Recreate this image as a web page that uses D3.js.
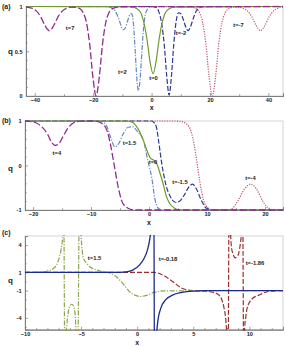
<!DOCTYPE html>
<html><head><meta charset="utf-8">
<script src="https://cdn.jsdelivr.net/npm/d3@7"></script>
<style>body{margin:0;background:#fff}svg{display:block}text{font-family:"Liberation Sans",Arial,sans-serif}</style>
</head><body><svg id="chart" width="286" height="347"></svg>
<script>
// ---------- Panel (a) ----------
const aX_t7 = [-43,-42.5,-41,-39.5,-38,-36.5,-35,-33.5,-32,-30.5,-29,-27.5,-26,-24.5,-23.4,-22.3,-21.2,-20.1,-19,-17.9,-16.8,-15.7,-14.6,-13.5,-11,45];
const aQ_t7 = [0.996,0.993,0.981,0.951,0.887,0.788,0.73,0.788,0.887,0.951,0.981,0.993,0.99,0.974,0.93,0.82,0.58,0.214,0,0.214,0.58,0.82,0.93,0.974,0.997,1];
const aX_t2 = [-43,-16,-14,-12.5,-11.2,-10.3,-9.7,-9,-8.2,-7.4,-6.8,-6.2,-5.6,-5.1,-4.5,-3.9,-3.4,-2.8,-2.2,-1.4,0,45];
const aQ_t2 = [1,1,0.99,0.95,0.86,0.77,0.74,0.76,0.84,0.91,0.92,0.8,0.5,0.22,0.06,0.2,0.45,0.74,0.9,0.97,1,1];
const aX_t0 = [-43,-7.5,-6.5,-5.5,-4.5,-3.5,-2.5,-1.5,-0.5,0.5,1.5,2.5,3.5,4.5,5.5,6.5,7.5,45];
const aQ_t0 = [1,0.997,0.993,0.984,0.962,0.917,0.80,0.617,0.377,0.25,0.377,0.617,0.80,0.917,0.962,0.984,0.993,1];
const aX_tm2 = [-43,0,1.5,2.5,3.5,4.4,5.2,6,6.8,7.6,8.4,9.2,10,10.8,11.7,12.5,13.3,14.3,15.3,16.5,18,45];
const aQ_tm2 = [1,1,0.99,0.94,0.8,0.55,0.22,0.01,0.22,0.58,0.83,0.93,0.92,0.86,0.77,0.73,0.77,0.87,0.95,0.985,1,1];
const aX_tm7 = [-43,13,15.3,16.4,17.5,18.6,19.7,20.8,21.9,23,24.1,25.2,26.3,28.5,29.8,31.3,32.8,34.3,35.8,37.3,38.8,40.3,41.8,43.3,45];
const aQ_tm7 = [1,0.998,0.974,0.93,0.82,0.58,0.214,0,0.214,0.58,0.82,0.93,0.974,0.995,0.993,0.981,0.951,0.887,0.788,0.73,0.788,0.887,0.951,0.981,0.993];
const aLabels = ["t=7","t=2","t=0","t=-2","t=-7"];
const aLabelX = [-27.9,-10.0,0.66,10.1,29.8];
const aLabelQ = [0.76,0.27,0.2,0.70,0.79];
const aXTicks = [-40,-20,0,20,40];
const aXMinor = [-30,-10,10,30];
const aYTicks = [0,0.5,1];
const aYMinor = [0.1,0.2,0.3,0.4,0.6,0.7,0.8,0.9];

// ---------- Panel (b) ----------
const bX_t4 = [-21.5,-20.5,-19.5,-18.5,-17.5,-16.8,-16.2,-15.5,-14.8,-14,-13,-12,-10,-9,-8,-7.3,-6.7,-6,-5.3,-4.7,-4,-3,-1.5,23.5];
const bQ_t4 = [1,0.99,0.96,0.87,0.7,0.52,0.45,0.5,0.66,0.84,0.96,0.995,1,0.99,0.93,0.8,0.5,0,-0.5,-0.8,-0.93,-0.99,-1,-1];
const bX_t15 = [-21.5,-9,-8,-7.3,-6.6,-5.9,-5.2,-4.5,-3.6,-2.8,-2,-1,-0.2,0.5,1,1.5,2.2,23.5];
const bQ_t15 = [1,1,0.98,0.88,0.62,0.42,0.5,0.7,0.86,0.87,0.76,0.57,0.1,-0.3,-0.75,-0.95,-1,-1];
const bX_t0 = [-21.5,-4,-3,-2.3,-1.6,-1,-0.4,0.2,0.8,1.3,1.9,2.5,3,3.6,4.4,5.2,23.5];
const bQ_t0 = [1,1,0.98,0.9,0.75,0.57,0.35,0.17,0.12,0.05,-0.18,-0.45,-0.7,-0.86,-0.96,-1,-1];
const bX_tm15 = [-21.5,0.4,0.8,1.25,1.7,2.1,3,3.6,4.2,4.7,5.3,5.9,7,7.5,8.1,9,9.9,11.3,23.5];
const bQ_tm15 = [1,1,0.97,0.87,0.5,0.12,-0.48,-0.68,-0.8,-0.83,-0.8,-0.7,-0.46,-0.42,-0.51,-0.78,-0.96,-1,-1];
const bX_tm4 = [-21.5,4.5,5.5,6.5,7.2,7.8,8.2,8.8,9.4,10.2,11,13.5,14.3,15.3,16.5,17.5,18.5,19.6,20.6,21.6,23.5];
const bQ_tm4 = [1,1,0.99,0.93,0.78,0.45,0.12,-0.4,-0.78,-0.96,-1,-1,-0.97,-0.8,-0.52,-0.42,-0.52,-0.8,-0.96,-1,-1];
const bLabels = ["t=4","t=1.5","t=0","t=-1.5","t=-4"];
const bLabelX = [-15.9,-3.38,0.68,5.33,17.5];
const bLabelQ = [0.28,0.51,0.08,-0.37,-0.28];
const bXTicks = [-20,-10,0,10,20];
const bXMinor = [-15,-5,5,15];
const bYTicks = [-1,0,1];
const bYMinor = [-0.8,-0.6,-0.4,-0.2,0.2,0.4,0.6,0.8];

// ---------- Panel (c) ---------- (poles are joined by near-vertical jumps, as in the source plot)
const cX_t15 = [-10,-9,-8.5,-8,-7.5,-7.2,-7,-6.8,-6.65,-6.55,-6.45,-6.3,-6.15,-6.0,-5.84,-5.68,-5.55,-5.45,-5.3,-5.15,-5.0,-4.8,-4.5,-4.2,-3.8,-3.3,-2.9,-2.45,-2,-1.55,-1.1,-0.7,-0.2,0.3,0.9,1.5,2.5,13];
const cQ_t15 = [1,1.02,1.05,1.15,1.4,1.8,2.4,3.4,4.8,9,-9,-5.3,-3.4,-2.7,-2.5,-2.7,-3.4,-5.3,-9,9,5,2.6,2.0,1.6,1.35,1.15,1.05,0.95,0.65,0.16,-0.5,-1.1,-1.5,-1.65,-1.5,-1.2,-1.03,-1];
const cX_tm018 = [-10,-1.5,-1,-0.4,0.2,0.6,0.9,1.1,1.25,1.38,1.47,1.56,1.65,1.8,2.1,2.55,3.15,4,5,6,13];
const cQ_tm018 = [1,1,1.05,1.25,1.8,2.5,3.4,4.5,6,9,14,-14,-8,-4.8,-2.95,-2.0,-1.5,-1.2,-1.05,-1,-1];
const cX_tm186 = [-10,1.5,2.3,3.15,4.0,4.9,6,6.8,7.3,7.75,7.95,8.1,8.2,8.3,8.4,8.55,8.75,8.9,9.05,9.2,9.3,9.4,9.5,9.58,9.68,9.8,10.25,10.85,11.7,12.5,13];
const cQ_tm186 = [1,1,0.7,0,-0.75,-1,-1.05,-1.2,-1.5,-2.95,-5.1,-10,10,6,3.8,3.0,2.6,2.75,3.1,4.2,5.5,10,-10,-5.1,-3.9,-2.95,-1.9,-1.5,-1.1,-1.02,-1];
const cLabels = ["t=1.5","t=-0.18","t=-1.86"];
const cLabelX = [-3.8,2.75,10.5];
const cLabelQ = [2.58,2.47,2.03];
const cXTicks = [-10,-5,0,5,10];
const cXMinor = [-9,-8,-7,-6,-4,-3,-2,-1,1,2,3,4,6,7,8,9,11,12];
const cYTicks = [-4,-1,1,4];
const cYMinor = [-5,-3,-2,0,2,3,5];

const toPts = (xs, qs) => xs.map((x, i) => ({x, q: qs[i]}));

const panels = [
  {tag:"(a)", box:{l:26,r:283,t:6.5,b:96}, xd:[-43,45], yd:[0,1],
   xt:aXTicks, xm:aXMinor, yt:aYTicks, ym:aYMinor, yfmt:d=>d===0.5?"0.5":String(d),
   curves:[
     {p:toPts(aX_tm7,aQ_tm7), c:"#b9566a", d:"1.2,1.3", w:1.2},
     {p:toPts(aX_tm2,aQ_tm2), c:"#2c3990", d:"5,2", w:1.2},
     {p:toPts(aX_t2,aQ_t2), c:"#6a88c0", d:"5,1.5,1.2,1.5", w:1.2},
     {p:toPts(aX_t0,aQ_t0), c:"#6e9a2e", d:null, w:1.2},
     {p:toPts(aX_t7,aQ_t7), c:"#8f2a8f", d:"7,2.5", w:1.3}],
   lt:aLabels, lx:aLabelX, lq:aLabelQ, tagY:9, qY:51, xlY:108},
  {tag:"(b)", box:{l:25,r:283,t:121,b:210}, xd:[-21.4,23.1], yd:[-1,1],
   xt:bXTicks, xm:bXMinor, yt:bYTicks, ym:bYMinor, yfmt:d=>String(d),
   curves:[
     {p:toPts(bX_tm4,bQ_tm4), c:"#b9566a", d:"1.2,1.3", w:1.2},
     {p:toPts(bX_tm15,bQ_tm15), c:"#2c3990", d:"5,2", w:1.2},
     {p:toPts(bX_t15,bQ_t15), c:"#6a88c0", d:"5,1.5,1.2,1.5", w:1.2},
     {p:toPts(bX_t0,bQ_t0), c:"#6e9a2e", d:null, w:1.2},
     {p:toPts(bX_t4,bQ_t4), c:"#8f2a8f", d:"7,2.5", w:1.3}],
   lt:bLabels, lx:bLabelX, lq:bLabelQ, tagY:123, qY:168, xlY:223},
  {tag:"(c)", box:{l:25,r:283,t:236,b:329.7}, xd:[-10,13], yd:[-5.3,5],
   xt:cXTicks, xm:cXMinor, yt:cYTicks, ym:cYMinor, yfmt:d=>String(d),
   curves:[
     {p:toPts(cX_tm186,cQ_tm186), c:"#9c2c30", d:"5,2", w:1.2},
     {p:toPts(cX_t15,cQ_t15), c:"#8ea44e", d:"5,1.5,1.2,1.5", w:1.2},
     {p:toPts(cX_tm018,cQ_tm018), c:"#1c2a8c", d:null, w:1.3}],
   lt:cLabels, lx:cLabelX, lq:cLabelQ, tagY:235, qY:280, xlY:343}
];

const svg = d3.select("#chart");
panels.forEach((P, pi) => {
  const x = d3.scaleLinear().domain(P.xd).range([P.box.l, P.box.r]);
  const y = d3.scaleLinear().domain(P.yd).range([P.box.b, P.box.t]);
  const g = svg.append("g");
  const cid = "clip" + pi;
  svg.append("defs").append("clipPath").attr("id", cid).append("rect")
    .attr("x", P.box.l).attr("y", P.box.t - 1).attr("width", P.box.r - P.box.l).attr("height", P.box.b - P.box.t + 2);
  g.append("rect").attr("x", P.box.l).attr("y", P.box.t).attr("width", P.box.r - P.box.l)
    .attr("height", P.box.b - P.box.t).attr("fill", "none").attr("stroke", "#c8c8c8").attr("stroke-width", 0.8);
  const ax = g.append("g").attr("transform", `translate(0,${P.box.b})`)
    .call(d3.axisBottom(x).tickValues(P.xt).tickSize(-3).tickPadding(2.5).tickFormat(d3.format("d")));
  const axm = g.append("g").attr("transform", `translate(0,${P.box.b})`)
    .call(d3.axisBottom(x).tickValues(P.xm).tickSize(-1.8).tickFormat(""));
  const ay = g.append("g").attr("transform", `translate(${P.box.l},0)`)
    .call(d3.axisLeft(y).tickValues(P.yt).tickSize(-3).tickPadding(3.5).tickFormat(P.yfmt));
  const aym = g.append("g").attr("transform", `translate(${P.box.l},0)`)
    .call(d3.axisLeft(y).tickValues(P.ym).tickSize(-1.8).tickFormat(""));
  [ax, axm, ay, aym].forEach(a => {
    a.select(".domain").attr("stroke", "#7a7a7a").attr("stroke-width", 0.8);
    a.selectAll(".tick line").attr("stroke", "#7a7a7a").attr("stroke-width", 0.7);
    a.selectAll(".tick text").attr("font-size", 5.6).attr("font-weight", "bold").attr("fill", "#222")
      .attr("font-family", '"Liberation Sans",Arial,sans-serif');
  });
  const line = d3.line().x(d => x(d.x)).y(d => y(d.q)).curve(d3.curveMonotoneX);
  const cg = g.append("g").attr("clip-path", `url(#${cid})`);
  P.curves.forEach(c => {
    cg.append("path").attr("d", line(c.p)).attr("fill", "none").attr("stroke", c.c)
      .attr("stroke-width", c.w).attr("stroke-dasharray", c.d);
  });
  P.lt.forEach((t, i) => {
    g.append("text").attr("x", x(P.lx[i])).attr("y", y(P.lq[i])).attr("dy", "0.35em")
      .attr("text-anchor", "middle").attr("font-size", 5.8).attr("font-weight", "bold").attr("fill", "#222").text(t);
  });
  g.append("text").attr("x", 2).attr("y", P.tagY).attr("font-size", 7).attr("font-weight", "bold").attr("fill", "#222").text(P.tag);
  g.append("text").attr("x", 8).attr("y", P.qY).attr("dy", "0.35em").attr("font-size", 8).attr("font-weight", "bold").attr("fill", "#222").text("q");
  g.append("text").attr("x", x(0)).attr("y", P.xlY).attr("dy", "0.35em").attr("text-anchor", "middle").attr("font-size", 7).attr("font-weight", "bold").attr("fill", "#222").text("x");
});
</script>
</body></html>
